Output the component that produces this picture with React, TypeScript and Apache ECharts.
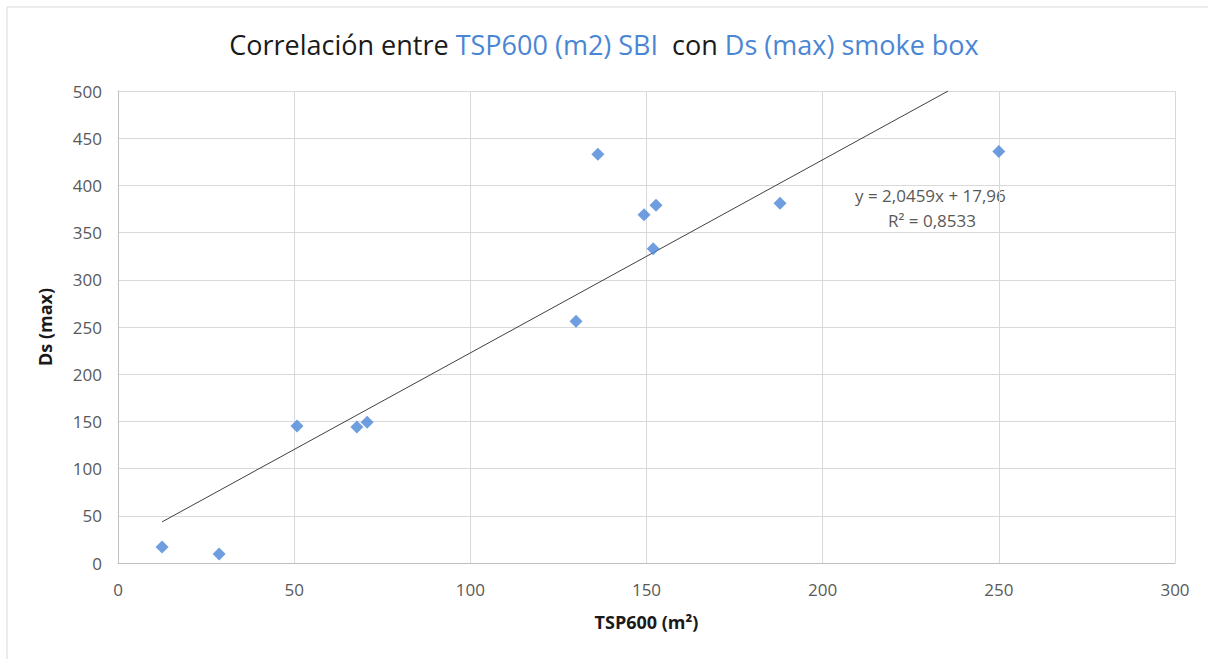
import React, { useEffect, useRef } from "react";
import * as echarts from "echarts";

const xValues = [12.5, 28.7, 50.8, 67.8, 70.7, 130, 136.2, 149.3, 151.9, 152.7, 187.9, 250];
const yValues = [17, 9.5, 145, 144, 149, 256, 433, 369, 333, 379, 381, 436];
const slope = 2.0459;
const intercept = 17.96;
const trendX = [12.5, 235.6];
const equationText = "y = 2,0459x + 17,96";
const r2Text = "R² = 0,8533";
const xTicks = [0, 50, 100, 150, 200, 250, 300];
const yTicks = [0, 50, 100, 150, 200, 250, 300, 350, 400, 450, 500];

const FONT = "'Open Sans', 'Noto Sans', sans-serif";

export default function App() {
  const ref = useRef<HTMLDivElement>(null);
  useEffect(() => {
    const chart = echarts.init(ref.current!, null, { renderer: "svg" });
    const points = xValues.map((x, i) => [x, yValues[i]]);
    const trend = trendX.map((x) => [x, slope * x + intercept]);
    chart.setOption({
      animation: false,
      backgroundColor: "#ffffff",
      textStyle: { fontFamily: FONT },
      title: {
        text: "{k|Correlación entre }{b|TSP600 (m2) SBI}{k|  con }{b|Ds (max) smoke box}",
        left: "center",
        top: 26,
        textStyle: {
          fontWeight: "normal",
          rich: {
            k: { color: "#1a1a1a", fontSize: 27, fontFamily: FONT, fontWeight: "normal" },
            b: { color: "#4a86d4", fontSize: 27, fontFamily: FONT, fontWeight: "normal" },
          },
        },
      },
      graphic: [
        {
          type: "rect",
          shape: { x: 7, y: 7, width: 1215, height: 670 },
          style: { fill: "none", stroke: "#d9d9d9", lineWidth: 1 },
          silent: true,
          z: -1,
        },
        {
          type: "text",
          left: 855,
          top: 187,
          style: { text: equationText, fill: "#595959", font: `17px ${FONT}` },
        },
        {
          type: "text",
          left: 888,
          top: 212,
          style: { text: r2Text, fill: "#595959", font: `17px ${FONT}` },
        },
      ],
      grid: { left: 118, right: 33, top: 91, bottom: 96 },
      xAxis: {
        type: "value",
        min: xTicks[0],
        max: xTicks[xTicks.length - 1],
        interval: 50,
        name: "TSP600 (m²)",
        nameLocation: "middle",
        nameGap: 50,
        nameTextStyle: { color: "#1a1a1a", fontWeight: "bold", fontSize: 18, fontFamily: FONT },
        axisLine: { show: true, lineStyle: { color: "#bfbfbf" } },
        axisTick: { show: false },
        axisLabel: { color: "#595959", fontSize: 17, margin: 18, fontFamily: FONT },
        splitLine: { show: true, lineStyle: { color: "#d9d9d9", width: 1 } },
      },
      yAxis: {
        type: "value",
        min: yTicks[0],
        max: yTicks[yTicks.length - 1],
        interval: 50,
        name: "Ds (max)",
        nameLocation: "middle",
        nameGap: 64,
        nameRotate: 90,
        nameTextStyle: { color: "#1a1a1a", fontWeight: "bold", fontSize: 18, fontFamily: FONT },
        axisLine: { show: true, lineStyle: { color: "#bfbfbf" } },
        axisTick: { show: false },
        axisLabel: { color: "#595959", fontSize: 17, margin: 16, fontFamily: FONT },
        splitLine: { show: true, lineStyle: { color: "#d9d9d9", width: 1 } },
      },
      series: [
        {
          type: "line",
          data: trend,
          showSymbol: false,
          symbol: "none",
          lineStyle: { color: "#404040", width: 1 },
          z: 2,
        },
        {
          type: "scatter",
          data: points,
          symbol: "diamond",
          symbolSize: 13,
          itemStyle: { color: "#4a86d8" },
          z: 3,
        },
      ],
    });
    return () => chart.dispose();
  }, []);
  return (
    <div
      ref={ref}
      style={{ position: "absolute", left: 0, top: 0, width: 1208, height: 659 }}
    />
  );
}
